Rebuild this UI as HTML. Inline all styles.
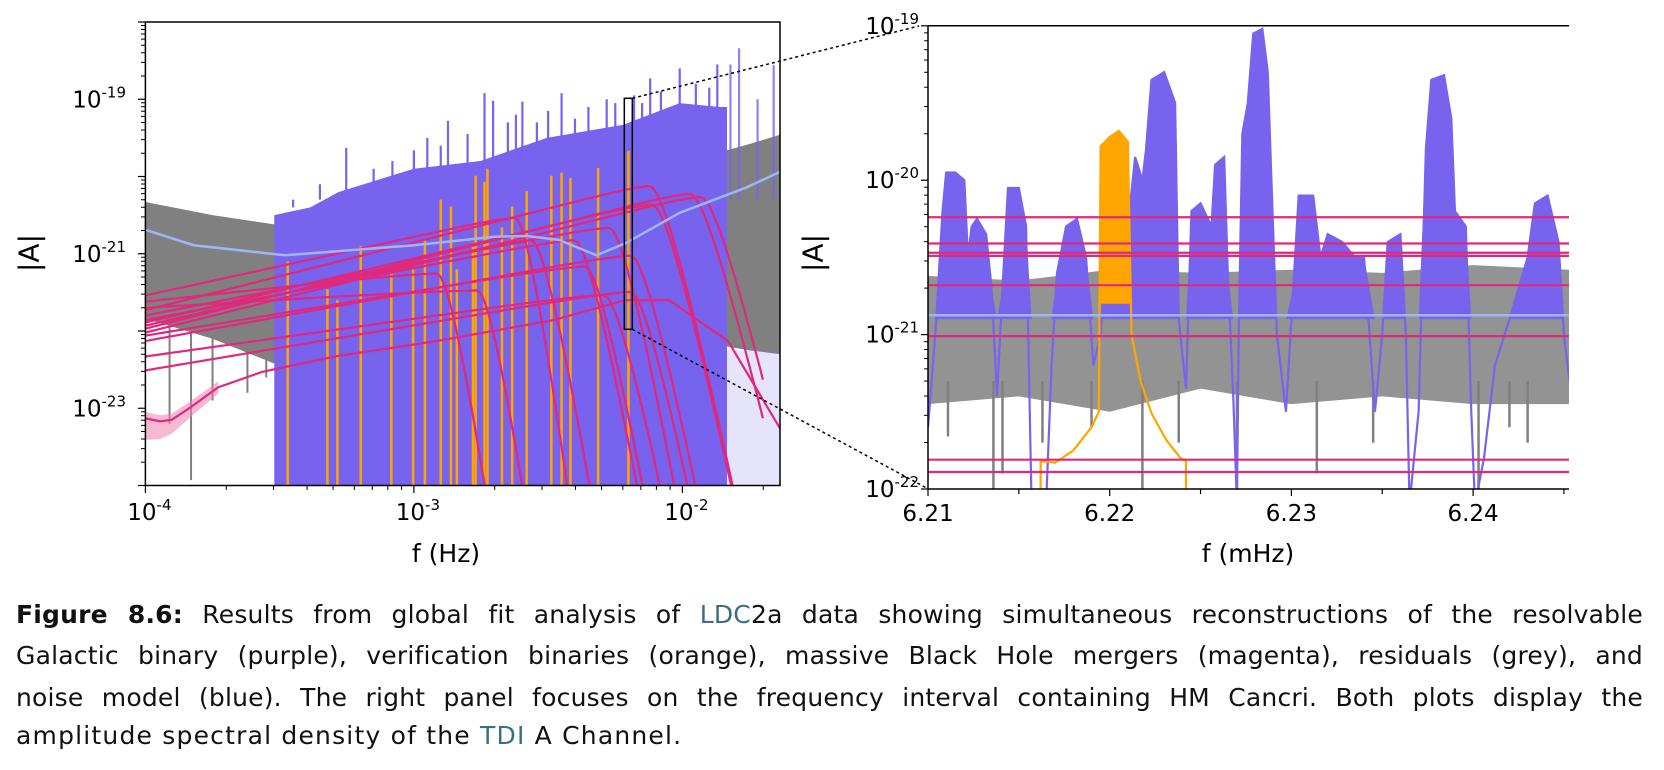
<!DOCTYPE html>
<html><head><meta charset="utf-8"><style>
html,body{margin:0;padding:0;background:#fff;overflow:hidden;height:770px;}
body{width:1664px;height:770px;position:relative;overflow:hidden;}
svg{position:absolute;left:0;top:0;display:block;}
.cap{position:absolute;left:16px;width:1627px;height:36px;font-family:"DejaVu Sans","Liberation Sans",sans-serif;font-size:25px;line-height:36px;color:#111;white-space:nowrap;letter-spacing:0.2px;overflow:hidden;}
.j{text-align:justify;text-align-last:justify;}
.teal{color:#3d6e80;}
</style></head><body>
<svg id="fig" width="1664" height="770" viewBox="0 0 1664 770"
 font-family="'DejaVu Sans','Liberation Sans',sans-serif">
<defs>
<clipPath id="clipL"><rect x="145.4" y="22" width="634.6" height="463.5"/></clipPath>
<clipPath id="clipR"><rect x="928" y="25.8" width="641" height="463.2"/></clipPath>
</defs>
<g id="left"></g>
<g id="right"></g>
<g id="conn">
<rect x="624.3" y="98.3" width="8" height="231" fill="none" stroke="#000" stroke-width="1.5"/>
<line x1="632.3" y1="98.3" x2="919" y2="26" stroke="#000" stroke-width="1.5" stroke-dasharray="3,3"/>
<line x1="632.3" y1="329.3" x2="926.6" y2="488" stroke="#000" stroke-width="1.5" stroke-dasharray="3,3"/>
</g>
<text x="29" y="253" font-size="28" text-anchor="middle" transform="rotate(-90 29 253)" dominant-baseline="central">|A|</text>
<text x="446" y="562" font-size="25" text-anchor="middle">f (Hz)</text>
<text x="813" y="253" font-size="28" text-anchor="middle" transform="rotate(-90 813 253)" dominant-baseline="central">|A|</text>
<text x="1248" y="562" font-size="25" text-anchor="middle">f (mHz)</text>
</svg>

<div class="cap j" style="top:597px;"><b>Figure 8.6:</b> Results from global fit analysis of <span class="teal">LDC</span>2a data showing simultaneous reconstructions of the resolvable</div>
<div class="cap j" style="top:638px;">Galactic binary (purple), verification binaries (orange), massive Black Hole mergers (magenta), residuals (grey), and</div>
<div class="cap j" style="top:680px;">noise model (blue). The right panel focuses on the frequency interval containing HM Cancri. Both plots display the</div>
<div class="cap" style="top:718px;letter-spacing:1.2px;">amplitude spectral density of the <span class="teal">TDI</span> A Channel.</div>

<script>
// ===== LEFT PANEL DATA (log10 f [Hz], log10 |A|) =====
const greyLF  = [-4, -3.75, -3.5, -3.25, -3.0, -2.5, -2.0, -1.834, -1.75, -1.637];
const greyTop = [-20.33, -20.5, -20.63, -20.7, -20.5, -20.2, -19.9, -19.66, -19.58, -19.46];
const greyBot = [-21.84, -22.1, -22.45, -22.6, -22.6, -22.6, -22.5, -22.2, -22.25, -22.3];
const greySpikeLF = [-3.91, -3.83, -3.75, -3.62, -3.55];
const greySpikeLA = [-23.2, -23.93, -22.9, -22.8, -22.6];
const purpLF  = [-3.52, -3.386, -3.28, -3.0, -2.752, -2.505, -2.22, -2.01, -1.86, -1.834];
const purpTop = [-20.5, -20.4, -20.2, -19.9, -19.8, -19.5, -19.33, -19.05, -19.1, -19.1];
const purpSpikeLF = [-3.45,-3.35,-3.252,-3.15,-3.08,-3.0,-2.95,-2.9,-2.873,-2.8,-2.737,-2.705,-2.65,-2.62,-2.596,-2.542,-2.5,-2.45,-2.4,-2.35,-2.282,-2.25,-2.18,-2.15,-2.12,-2.08,-2.01,-1.95,-1.9,-1.87,-1.821,-1.789,-1.72,-1.66];
const purpSpikeLA = [-20.4,-20.1,-19.63,-19.9,-19.8,-19.66,-19.5,-19.6,-19.28,-19.45,-18.92,-19.02,-19.3,-19.2,-19.03,-19.30,-19.15,-18.92,-19.25,-19.1,-19.0,-19.05,-18.95,-19.05,-18.73,-18.9,-18.6,-18.8,-18.85,-18.55,-18.55,-18.34,-19.0,-18.56];
const orangeLF = [-3.470,-3.322,-3.285,-3.198,-3.084,-3.003,-2.959,-2.900,-2.862,-2.840,-2.780,-2.770,-2.737,-2.726,-2.672,-2.634,-2.580,-2.488,-2.450,-2.417,-2.314,-2.201];
const orangeLA = [-21.10,-21.46,-21.60,-20.90,-21.24,-21.20,-20.83,-20.30,-20.39,-21.20,-20.86,-19.99,-20.07,-19.90,-20.66,-20.39,-20.19,-19.99,-19.95,-20.02,-19.89,-19.67];
const mbhStart = [-21.54,-21.73,-21.97,-22.02,-21.89,-21.80,-22.13,-22.33,-21.70,-21.93,-21.86,-22.06,-22.51,-21.62];
const mbhPeakF = [-2.629,-2.13,-1.98,-1.94,-2.12,-2.28,-2.20,-2.30,-2.77,-2.57,-2.41,-2.37,-2.20,-2.92];
const mbhPeakA = [-20.50,-20.09,-20.19,-20.23,-20.33,-20.63,-20.99,-21.50,-21.44,-20.79,-20.79,-21.13,-21.46,-21.22];
const mbhFall  = [28,17,15,15,17,20,18,18,25,22,20,20,18,25];
const lowLF = [-4,-3.946,-3.902,-3.837,-3.729,-3.566,-3.295,-2.916,-2.482,-2.211,-2.05,-1.83,-1.51];
const lowLA = [-23.13,-23.17,-23.15,-23.0,-22.73,-22.53,-22.33,-22.13,-21.86,-21.60,-21.60,-22.13,-24.0];
const blueLF = [-4,-3.82,-3.48,-3.0,-2.7,-2.58,-2.46,-2.32,-2.21,-2.01,-1.76,-1.637];
const blueLA = [-20.69,-20.89,-21.02,-20.89,-20.78,-20.77,-20.82,-21.02,-20.86,-20.47,-20.14,-19.94];
const leftXTicks = [-4,-3,-2];
const leftXLabels = ["-4","-3","-2"];
const leftYTicks = [-19,-21,-23];
const leftYLabels = ["-19","-21","-23"];

// ===== RIGHT PANEL DATA (f [mHz], log10 |A|) =====
const rGreyF   = [6.2100,6.2150,6.2200,6.2250,6.2300,6.2350,6.2400,6.2453];
const rGreyTop = [-20.62,-20.65,-20.58,-20.6,-20.58,-20.6,-20.55,-20.58];
const rGreyBot = [-21.45,-21.4,-21.5,-21.35,-21.45,-21.4,-21.45,-21.45];
const rSpikeF  = [6.2111,6.2136,6.2141,6.2163,6.2190,6.2218,6.2238,6.2270,6.2314,6.2345,6.2403,6.2420,6.2430];
const rSpikeLA = [-21.66,-22.0,-21.9,-21.7,-21.6,-22.0,-21.7,-22.0,-21.9,-21.7,-22.0,-21.6,-21.7];
const rPurpF = [6.2100,6.2104,6.2108,6.2110,6.2115,6.2120,6.2122,6.2124,6.2127,6.2132,6.2135,6.2138,6.2141,6.2144,6.2150,6.2154,6.2157,6.2165,6.2168,6.2171,6.2176,6.2182,6.2187,6.2191,6.2195,6.2200,6.2205,6.2210,6.2214,6.2218,6.2220,6.2223,6.2230,6.2236,6.2238,6.2242,6.2245,6.2250,6.2256,6.2258,6.2263,6.2265,6.2268,6.2270,6.2271,6.2273,6.2276,6.2279,6.2284,6.2287,6.2289,6.2292,6.2297,6.2301,6.2304,6.2312,6.2316,6.2320,6.2328,6.2335,6.2340,6.2346,6.2350,6.2353,6.2360,6.2363,6.2365,6.2370,6.2374,6.2377,6.2384,6.2388,6.2390,6.2396,6.2399,6.2401,6.2406,6.2412,6.2420,6.2430,6.2434,6.2441,6.2447,6.2450,6.2453];
const rPurpLA = [-21.6,-21.0,-20.2,-19.95,-19.95,-20.0,-20.5,-20.3,-20.25,-20.35,-20.7,-21.4,-20.7,-20.05,-20.05,-20.3,-22.1,-22.1,-21.2,-20.6,-20.3,-20.25,-20.5,-21.2,-21.0,-20.0,-19.8,-20.3,-19.85,-20.0,-19.8,-19.35,-19.3,-19.5,-20.9,-21.35,-20.2,-20.15,-20.3,-19.9,-19.85,-20.6,-21.4,-22.1,-21.0,-19.7,-19.5,-19.05,-19.02,-19.3,-20.0,-21.0,-21.5,-20.7,-20.1,-20.1,-20.5,-20.35,-20.4,-20.5,-20.5,-21.5,-21.0,-20.4,-20.35,-21.0,-22.1,-21.5,-19.8,-19.35,-19.32,-19.6,-20.2,-20.3,-21.5,-22.1,-21.8,-21.2,-20.9,-20.5,-20.15,-20.1,-20.4,-21.0,-21.3];
const rOrangeF  = [6.2162,6.2162,6.2170,6.2180,6.2190,6.2194,6.2195,6.2200,6.2205,6.2210,6.2212,6.2217,6.2223,6.2231,6.2239,6.2242,6.2242];
const rOrangeLA = [-22.1,-21.82,-21.83,-21.75,-21.6,-21.5,-19.78,-19.72,-19.68,-19.75,-21.0,-21.3,-21.51,-21.68,-21.8,-21.82,-22.1];
const rMbhLA = [-20.24,-20.41,-20.47,-20.49,-20.68,-21.01,-21.81,-21.89];
const rNoiseLA = -20.875;
const rightXTicks = [6.21,6.22,6.23,6.24];
const rightXLabels = ["6.21","6.22","6.23","6.24"];
const rightYTicks = [-19,-20,-21,-22];
const rightYLabels = ["-19","-20","-21","-22"];

const NS="http://www.w3.org/2000/svg";
function mk(tag, attrs, parent){const e=document.createElementNS(NS,tag);for(const k in attrs)e.setAttribute(k,attrs[k]);parent.appendChild(e);return e;}
const LX=lf=>145.4+(lf+4)*268.5, LY=la=>22+(-18-la)*77.25;
const RX=f=>928+(f-6.21)*18170, RY=la=>25.8+(-19-la)*154.4;
const PURPLE="#7763ee", GREY="#808080", ORANGE="#ffa500", MAG="#e0287c", BLUE="#9db7f6";

const L=document.getElementById('left'), R=document.getElementById('right');
const gL=mk('g',{'clip-path':'url(#clipL)'},L);
const gR=mk('g',{'clip-path':'url(#clipR)'},R);

let pts=greyLF.map((v,i)=>LX(v)+','+LY(greyTop[i]));
pts=pts.concat(greyLF.slice().reverse().map((v,i)=>LX(v)+','+LY(greyBot[greyBot.length-1-i])));
let el=mk('polygon',{points:pts.join(' '),fill:GREY},gL);


greySpikeLF.forEach((v,i)=>{
  const s=mk('line',{x1:LX(v),x2:LX(v),y1:LY(-21.9),y2:LY(greySpikeLA[i]),stroke:GREY,'stroke-width':2},gL);
  
  
});
el=mk('rect',{x:LX(-1.834),y:LY(-22.25),width:LX(-1.637)-LX(-1.834),height:LY(-24)-LY(-22.25),fill:PURPLE,opacity:0.18},gL);


pts=purpLF.map((v,i)=>LX(v)+','+LY(purpTop[i]));
pts.push(LX(purpLF[purpLF.length-1])+','+LY(-24.2));pts.push(LX(purpLF[0])+','+LY(-24.2));
el=mk('polygon',{points:pts.join(' '),fill:PURPLE},gL);


purpSpikeLF.forEach((v,i)=>{
  const s=mk('line',{x1:LX(v),x2:LX(v),y1:LY(-20.3),y2:LY(purpSpikeLA[i]),stroke:PURPLE,'stroke-width':2.2,opacity:v>-1.84?0.8:1},gL);
  
  
});
orangeLF.forEach((v,i)=>{
  const s=mk('line',{x1:LX(v),x2:LX(v),y1:LY(-24.2),y2:LY(orangeLA[i]),stroke:ORANGE,'stroke-width':2.5},gL);
  
  
});
function mbhLA(i,lf){
  const d=lf-mbhPeakF[i], slope=(mbhPeakA[i]-mbhStart[i])/(mbhPeakF[i]+4);
  const Rv=mbhPeakA[i]+slope*d;
  const Fv=d>0?mbhPeakA[i]-mbhFall[i]*d*d/(d+0.12):mbhPeakA[i];
  const k=0.05;
  return -k*Math.log(Math.exp(-Rv/k)+Math.exp(-Fv/k));
}
let bandUp=[],bandDn=[];
for(let i=0;i<5;i++){bandUp.push(LX(lowLF[i])+','+LY(lowLA[i]+0.08));bandDn.unshift(LX(lowLF[i])+','+LY(lowLA[i]-0.28+i*0.05));}
el=mk('polygon',{points:bandUp.concat(bandDn).join(' '),fill:'#ee7fb0',opacity:0.55},gL);


el=mk('polyline',{points:lowLF.map((v,i)=>LX(v)+','+LY(lowLA[i])).join(' '),fill:'none',stroke:MAG,'stroke-width':2.2},gL);


mbhStart.forEach((_,i)=>{
  const p=[];
  for(let lf=-4;lf<=-1.70;lf+=0.01){p.push(LX(lf).toFixed(1)+','+LY(mbhLA(i,lf)).toFixed(1));}
  const c=mk('polyline',{points:p.join(' '),fill:'none',stroke:MAG,'stroke-width':2.2},gL);
  
  
});
el=mk('polyline',{points:blueLF.map((v,i)=>LX(v)+','+LY(blueLA[i])).join(' '),fill:'none',stroke:BLUE,'stroke-width':2.5,'stroke-linejoin':'round'},gL);



el=mk('rect',{x:145.4,y:22,width:634.6,height:463.5,fill:'none',stroke:'#000','stroke-width':1.5},L);


for(let d=-24;d<=-18;d++){
  const y=LY(d);
  mk('line',{x1:145.4,x2:138,y1:y,y2:y,stroke:'#000','stroke-width':1.2},L);
  if(d<-18)for(let m=2;m<10;m++){const ym=LY(d+Math.log10(m));mk('line',{x1:145.4,x2:141,y1:ym,y2:ym,stroke:'#000','stroke-width':1},L);}
}
for(let d=-4;d<=-2;d++){
  const x=LX(d);
  mk('line',{x1:x,x2:x,y1:485.5,y2:493,stroke:'#000','stroke-width':1.2},L);
  for(let m=2;m<10;m++){const xm=LX(d+Math.log10(m));if(xm<=780)mk('line',{x1:xm,x2:xm,y1:485.5,y2:490,stroke:'#000','stroke-width':1},L);}
}
leftYTicks.forEach((v,i)=>{
  const t=mk('text',{x:126,y:LY(v)+8,'font-size':23,'text-anchor':'end'},L);
  t.innerHTML='10<tspan dy="-10" font-size="15">'+leftYLabels[i]+'</tspan>';
  
  
});
leftXTicks.forEach((v,i)=>{
  const t=mk('text',{x:LX(v)+4,y:520,'font-size':23,'text-anchor':'middle'},L);
  t.innerHTML='10<tspan dy="-10" font-size="15">'+leftXLabels[i]+'</tspan>';
  
  
});

pts=rGreyF.map((v,i)=>RX(v)+','+RY(rGreyTop[i]));
pts=pts.concat(rGreyF.slice().reverse().map((v,i)=>RX(v)+','+RY(rGreyBot[rGreyBot.length-1-i])));
el=mk('polygon',{points:pts.join(' '),fill:GREY,opacity:0.85},gR);


rSpikeF.forEach((v,i)=>{
  const s=mk('line',{x1:RX(v),x2:RX(v),y1:RY(-21.3),y2:RY(rSpikeLA[i]),stroke:GREY,'stroke-width':2.5},gR);
  
  
});
const FLOOR=-20.9;
let fp=rPurpF.map((v,i)=>RX(v)+','+RY(Math.max(rPurpLA[i],FLOOR)));
fp.push(RX(rPurpF[rPurpF.length-1])+','+RY(FLOOR));fp.push(RX(rPurpF[0])+','+RY(FLOOR));
el=mk('polygon',{points:fp.join(' '),fill:PURPLE},gR);


el=mk('polyline',{points:rPurpF.map((v,i)=>RX(v)+','+RY(rPurpLA[i])).join(' '),fill:'none',stroke:PURPLE,'stroke-width':2.2},gR);


el=mk('polygon',{points:rOrangeF.map((v,i)=>RX(v)+','+RY(Math.max(rOrangeLA[i],-20.8))).join(' '),fill:ORANGE},gR);


el=mk('polyline',{points:rOrangeF.map((v,i)=>RX(v)+','+RY(rOrangeLA[i])).join(' '),fill:'none',stroke:ORANGE,'stroke-width':2.2},gR);


el=mk('line',{x1:928,x2:1569,y1:RY(rNoiseLA),y2:RY(rNoiseLA),stroke:BLUE,'stroke-width':2.5},gR);


rMbhLA.forEach(v=>{
  const s=mk('line',{x1:928,x2:1569,y1:RY(v),y2:RY(v),stroke:MAG,'stroke-width':2.2},gR);
  
  
});
el=mk('path',{d:'M928,25.8 L1569,25.8 M928,25.8 L928,489 L1569,489',fill:'none',stroke:'#000','stroke-width':1.5},R);


for(let d=-22;d<=-19;d++){
  const y=RY(d);
  mk('line',{x1:928,x2:921,y1:y,y2:y,stroke:'#000','stroke-width':1.2},R);
  if(d<-19)for(let m=2;m<10;m++){const ym=RY(d+Math.log10(m));mk('line',{x1:928,x2:924,y1:ym,y2:ym,stroke:'#000','stroke-width':1},R);}
}
for(let k=0;k<8;k++){
  const f=6.21+k*0.005, x=RX(f);
  if(x>1569)break;
  mk('line',{x1:x,x2:x,y1:489,y2:k%2?494:496,stroke:'#000','stroke-width':1.2},R);
}
rightYTicks.forEach((v,i)=>{
  const t=mk('text',{x:919,y:RY(v)+8,'font-size':23,'text-anchor':'end'},R);
  t.innerHTML='10<tspan dy="-10" font-size="15">'+rightYLabels[i]+'</tspan>';
  
  
});
rightXTicks.forEach((v,i)=>{
  const t=mk('text',{x:RX(v),y:521,'font-size':23,'text-anchor':'middle'},R);
  t.textContent=rightXLabels[i];
  
  
});
</script>
</body></html>
